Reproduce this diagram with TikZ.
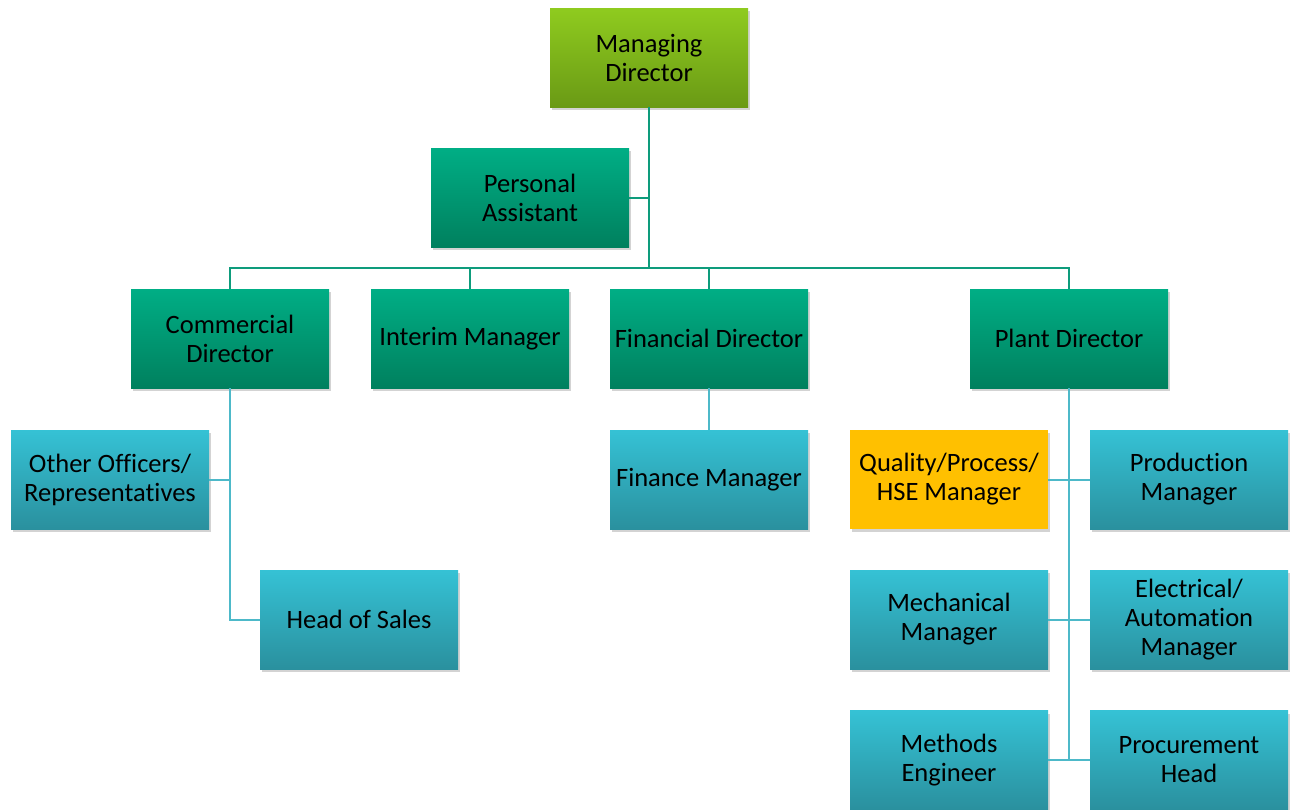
\documentclass[tikz,border=0pt]{standalone}
\usepackage{fontspec}
\setmainfont{Carlito}[Ligatures=NoCommon]
\usetikzlibrary{shadows}
\definecolor{grtop}{HTML}{8FCB1F}
\definecolor{grbot}{HTML}{6A9A15}
\definecolor{tltop}{HTML}{00AE85}
\definecolor{tlbot}{HTML}{00805E}
\definecolor{bltop}{HTML}{35C2D5}
\definecolor{blbot}{HTML}{2A909E}
\definecolor{orfill}{HTML}{FFC000}
\definecolor{lineone}{HTML}{0E9C7C}
\definecolor{linetwo}{HTML}{4DB9C9}
\tikzset{
  box/.style={rectangle, minimum width=198pt, minimum height=99pt, inner sep=0pt,
    align=center, font=\fontsize{26.5}{29}\selectfont, text=black,
    drop shadow={opacity=0.35, shadow xshift=2pt, shadow yshift=-3pt}},
  greenbox/.style={box, top color=grtop, bottom color=grbot},
  tealbox/.style={box, top color=tltop, bottom color=tlbot},
  bluebox/.style={box, top color=bltop, bottom color=blbot},
  orangebox/.style={box, fill=orfill},
  lone/.style={draw=lineone, line width=2pt},
  ltwo/.style={draw=linetwo, line width=2pt},
}
\begin{document}
\begin{tikzpicture}[x=1pt, y=-1pt]
\useasboundingbox (0,0) rectangle (1293,809);
% nodes
\node[greenbox] (md) at (649,57.5) {Managing\\Director};
\node[tealbox] (pa) at (530,197.5) {Personal\\Assistant};
\node[tealbox] (cd) at (230,338.5) {Commercial\\Director};
\node[tealbox] (im) at (470,338.5) {Interim Manager};
\node[tealbox] (fd) at (709,338.5) {Financial Director};
\node[tealbox] (pd) at (1069,338.5) {Plant Director};
\node[bluebox] (oo) at (110,479.5) {Other Officers/\\Representatives};
\node[bluebox] (hs) at (359,619.5) {Head of Sales};
\node[bluebox] (fm) at (709,479.5) {Finance Manager};
\node[orangebox] (qm) at (949,479.5) {Quality/Process/\\HSE Manager};
\node[bluebox] (pm) at (1189,479.5) {Production\\Manager};
\node[bluebox] (mm) at (949,619.5) {Mechanical\\Manager};
\node[bluebox] (em) at (1189,619.5) {Electrical/\\Automation\\Manager};
\node[bluebox] (me) at (949,760) {Methods\\Engineer};
\node[bluebox] (ph) at (1189,760) {Procurement\\Head};
% connectors level 1
\coordinate (bus) at (649,268);
\draw[lone] (md.south) -- (bus);
\draw[lone] (pa.east) -- (pa.east -| md.south);
\draw[lone] (cd.north) -- (cd.north |- bus) -- (pd.north |- bus) -- (pd.north);
\draw[lone] (im.north) -- (im.north |- bus);
\draw[lone] (fd.north) -- (fd.north |- bus);
% connectors level 2
\draw[ltwo] (cd.south) -- (cd.south |- hs.west) -- (hs.west);
\draw[ltwo] (oo.east) -- (oo.east -| cd.south);
\draw[ltwo] (fd.south) -- (fm.north);
\draw[ltwo] (pd.south) -- (pd.south |- me.east);
\draw[ltwo] (qm.east) -- (pm.west);
\draw[ltwo] (mm.east) -- (em.west);
\draw[ltwo] (me.east) -- (ph.west);
\end{tikzpicture}
\end{document}
